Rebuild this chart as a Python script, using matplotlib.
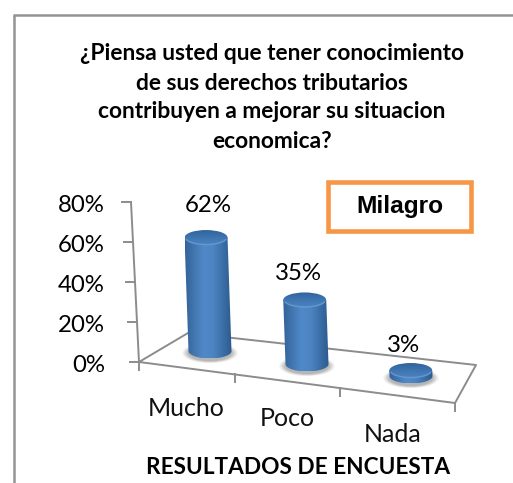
import numpy as np
import matplotlib
matplotlib.use("Agg")
import matplotlib.pyplot as plt
from matplotlib.patches import Ellipse, PathPatch, Rectangle
from matplotlib.path import Path
from matplotlib.colors import LinearSegmentedColormap

categories = ["Mucho", "Poco", "Nada"]
values = [62, 35, 3]
value_labels = ["62%", "35%", "3%"]
y_ticks = [0, 20, 40, 60, 80]
y_tick_labels = ["0%", "20%", "40%", "60%", "80%"]
title_lines = ["¿Piensa usted que tener conocimiento",
               "de sus derechos tributarios",
               "contribuyen a mejorar su situacion",
               "economica?"]
x_title = "RESULTADOS DE ENCUESTA"
legend_text = "Milagro"

W, H = 513, 483
fig = plt.figure(figsize=(W / 100, H / 100), dpi=100)
ax = fig.add_axes([0, 0, 1, 1])
ax.set_xlim(0, W)
ax.set_ylim(H, 0)
ax.axis("off")

GRAY = "#8c8c8c"
FONT = "Lato"
PT = 72 / 100  # points per pixel

# Chart frame (left and top edges only are visible)
ax.plot([13.5, 13.5], [H, 15], color="#949494", lw=1.8, solid_capstyle="butt", zorder=1)
ax.plot([13, W], [15, 15], color="#949494", lw=1.8, solid_capstyle="butt", zorder=1)

# Projection of the pseudo-3D scale
FL, FR = np.array([139.0, 362.0]), np.array([455.0, 403.0])
BL, BR = np.array([188.0, 333.0]), np.array([476.0, 365.0])


def axis_point(v):
    return 139 - 0.1 * v, 362 - 2.0 * v


lw_axis = 1.4
ax.plot(*zip(FL, FR, BR, BL, FL), color=GRAY, lw=lw_axis, zorder=2)
ax.plot(*zip(axis_point(0), axis_point(80)), color=GRAY, lw=lw_axis, zorder=2)
for t, lab in zip(y_ticks, y_tick_labels):
    x, y = axis_point(t)
    ax.plot([x - 9, x], [y, y], color=GRAY, lw=lw_axis, zorder=2)
    ax.text(105, y + 3.5, lab, ha="right", va="center", family=FONT,
            fontsize=24 * PT, color="black")

# Category ticks along the front edge (perspective spacing)
for f in [0.0, 0.304, 0.636, 1.0]:
    p = FL + (FR - FL) * f
    ax.plot([p[0], p[0]], [p[1], p[1] + 8], color=GRAY, lw=lw_axis, zorder=2)

cmap = LinearSegmentedColormap.from_list(
    "cyl", ["#33649a", "#4276b0", "#5089c9", "#4d85c3", "#3b70a9", "#2d5a8c"])
top_cmap = LinearSegmentedColormap.from_list("top", ["#30639c", "#3f75b0", "#4c83c0"])

# Base position of each cylinder on the floor
base_centers = [(210.0, 351.0), (307.0, 364.0), (411.0, 376.0)]
RX, RY = 21.5, 7.5
SCALE = 1.83
GRAD = np.linspace(0, 1, 256)[None, :]


def cylinder(cx, cy, value):
    h = value * SCALE
    top_x = cx - 0.035 * h
    top_y = cy - h
    # soft shadow
    for k, a in zip(np.linspace(1.3, 1.02, 7), np.linspace(0.06, 0.14, 7)):
        ax.add_patch(Ellipse((cx, cy + 2), 2 * RX * k, 2 * RY * k * 1.05,
                             fc="#777777", ec="none", alpha=a, zorder=3))
    # body outline
    t = np.linspace(np.pi, 0, 40)
    verts = [(top_x - RX, top_y)] + [(cx + RX * np.cos(a), cy + RY * np.sin(a)) for a in t] \
        + [(top_x + RX, top_y), (top_x - RX, top_y)]
    body = PathPatch(Path(verts), fc="none", ec="none", zorder=4)
    ax.add_patch(body)
    left = min(top_x, cx) - RX
    right = max(top_x, cx) + RX
    im = ax.imshow(GRAD, cmap=cmap, extent=[left, right, cy + RY, top_y], aspect="auto", zorder=4)
    im.set_clip_path(body)
    # top cap
    cap = Ellipse((top_x, top_y), 2 * RX, 2 * RY, fc="none", ec="none", zorder=5)
    ax.add_patch(cap)
    im2 = ax.imshow(np.linspace(0, 1, 64)[:, None], cmap=top_cmap,
                    extent=[top_x - RX, top_x + RX, top_y + RY, top_y - RY],
                    aspect="auto", zorder=5)
    im2.set_clip_path(cap)
    # rim highlight
    th = np.linspace(0.1 * np.pi, 0.9 * np.pi, 40)
    ax.plot(top_x + (RX - 1) * np.cos(th), top_y + (RY - 0.5) * np.sin(th),
            color="#6f9fd6", lw=1.0, alpha=0.75, zorder=6)


for (cx, cy), v in zip(base_centers, values):
    cylinder(cx, cy, v)
ax.set_xlim(0, W)
ax.set_ylim(H, 0)

# Data labels
label_pos = [(208, 206), (298, 273), (404, 345)]
for (x, y), lab in zip(label_pos, value_labels):
    ax.text(x, y, lab, ha="center", va="center", family=FONT, fontsize=24 * PT, color="black", zorder=7)

# Category labels
cat_pos = [(186, 409), (287, 419), (393, 434)]
for (x, y), lab in zip(cat_pos, categories):
    ax.text(x, y, lab, ha="center", va="center", family=FONT, fontsize=25 * PT, color="#111111")

# Title
for i, line in enumerate(title_lines):
    ax.text(272, 54 + 29 * i, line, ha="center", va="center", family=FONT,
            fontweight="bold", fontsize=22.8 * PT, color="black")

ax.text(298, 467, x_title, ha="center", va="center", family=FONT,
        fontweight="bold", fontsize=22.6 * PT, color="black")

# Legend-like box
ax.add_patch(Rectangle((328, 182), 143, 49, fc="white", ec="#f79646", lw=3.3, zorder=6))
ax.text(400, 206.5, legend_text, ha="center", va="center", family="Liberation Sans",
        fontweight="bold", fontsize=24.5 * PT, color="black", zorder=7)

fig.savefig("out.png", dpi=100, facecolor="white")
